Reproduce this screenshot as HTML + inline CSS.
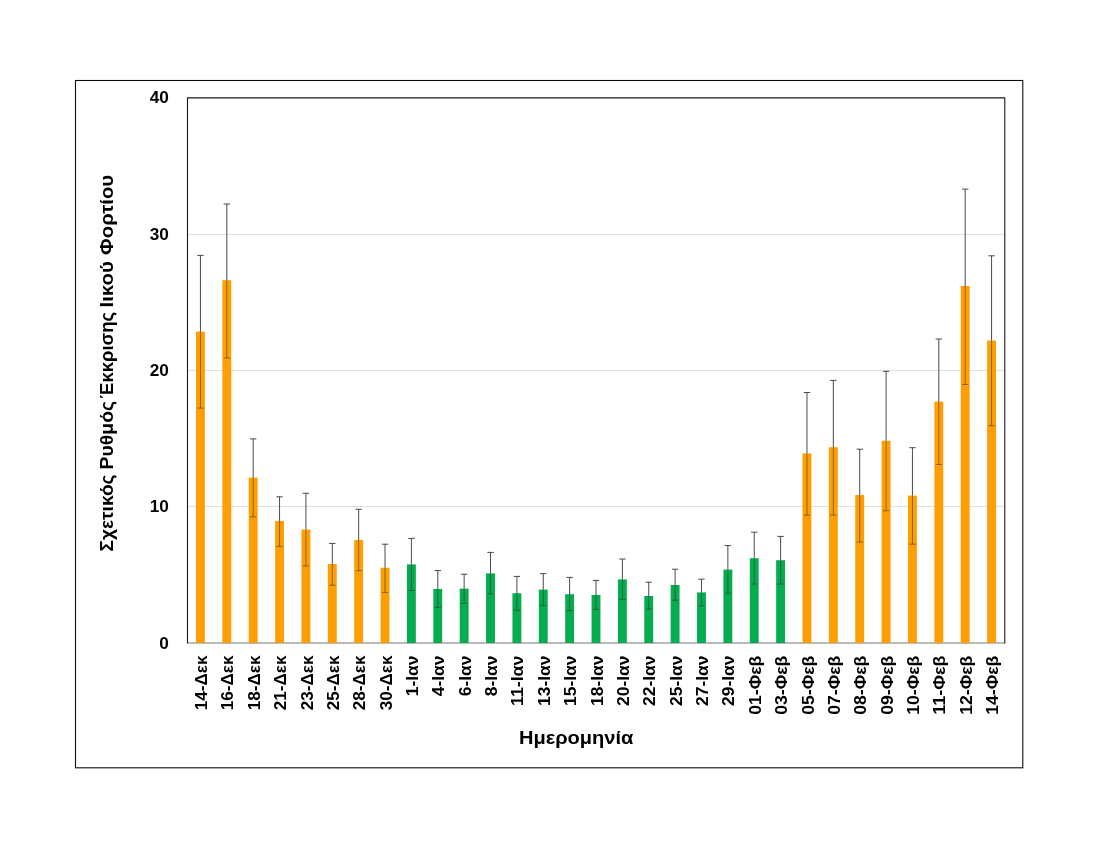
<!DOCTYPE html>
<html lang="el"><head><meta charset="utf-8"><title>Chart</title>
<style>
html,body{margin:0;padding:0;background:#fff;}
body{width:1100px;height:850px;overflow:hidden;}
svg{display:block;}
text{font-family:"Liberation Sans","DejaVu Sans",sans-serif;font-weight:bold;fill:#000;}
</style></head><body>
<svg width="1100" height="850" viewBox="0 0 1100 850">
<rect x="0" y="0" width="1100" height="850" fill="#fff"/>
<rect x="75.5" y="80.5" width="947.3" height="687.3" fill="#fff" stroke="#0d0d0d" stroke-width="1.1"/>
<line x1="187.5" x2="1004.8" y1="506.50" y2="506.50" stroke="#dfdfdf" stroke-width="1"/>
<line x1="187.5" x2="1004.8" y1="370.50" y2="370.50" stroke="#dfdfdf" stroke-width="1"/>
<line x1="187.5" x2="1004.8" y1="234.50" y2="234.50" stroke="#dfdfdf" stroke-width="1"/>
<line x1="187.5" x2="1004.8" y1="643" y2="643" stroke="#a3a3a8" stroke-width="1.6"/>
<rect x="195.99" y="331.60" width="8.9" height="311.40" fill="#FD9F03"/>
<rect x="222.36" y="280.20" width="8.9" height="362.80" fill="#FD9F03"/>
<rect x="248.73" y="477.60" width="8.9" height="165.40" fill="#FD9F03"/>
<rect x="275.10" y="520.90" width="8.9" height="122.10" fill="#FD9F03"/>
<rect x="301.47" y="529.60" width="8.9" height="113.40" fill="#FD9F03"/>
<rect x="327.84" y="564.00" width="8.9" height="79.00" fill="#FD9F03"/>
<rect x="354.21" y="539.90" width="8.9" height="103.10" fill="#FD9F03"/>
<rect x="380.58" y="567.70" width="8.9" height="75.30" fill="#FD9F03"/>
<rect x="406.95" y="564.40" width="8.9" height="78.60" fill="#06AD50"/>
<rect x="433.32" y="589.00" width="8.9" height="54.00" fill="#06AD50"/>
<rect x="459.70" y="588.60" width="8.9" height="54.40" fill="#06AD50"/>
<rect x="486.07" y="573.40" width="8.9" height="69.60" fill="#06AD50"/>
<rect x="512.44" y="593.20" width="8.9" height="49.80" fill="#06AD50"/>
<rect x="538.81" y="589.60" width="8.9" height="53.40" fill="#06AD50"/>
<rect x="565.18" y="594.20" width="8.9" height="48.80" fill="#06AD50"/>
<rect x="591.55" y="595.00" width="8.9" height="48.00" fill="#06AD50"/>
<rect x="617.92" y="579.40" width="8.9" height="63.60" fill="#06AD50"/>
<rect x="644.29" y="596.00" width="8.9" height="47.00" fill="#06AD50"/>
<rect x="670.66" y="585.00" width="8.9" height="58.00" fill="#06AD50"/>
<rect x="697.03" y="592.40" width="8.9" height="50.60" fill="#06AD50"/>
<rect x="723.41" y="569.60" width="8.9" height="73.40" fill="#06AD50"/>
<rect x="749.78" y="558.20" width="8.9" height="84.80" fill="#06AD50"/>
<rect x="776.15" y="560.20" width="8.9" height="82.80" fill="#06AD50"/>
<rect x="802.52" y="453.40" width="8.9" height="189.60" fill="#FD9F03"/>
<rect x="828.89" y="447.20" width="8.9" height="195.80" fill="#FD9F03"/>
<rect x="855.26" y="495.00" width="8.9" height="148.00" fill="#FD9F03"/>
<rect x="881.63" y="440.70" width="8.9" height="202.30" fill="#FD9F03"/>
<rect x="908.00" y="495.60" width="8.9" height="147.40" fill="#FD9F03"/>
<rect x="934.37" y="401.60" width="8.9" height="241.40" fill="#FD9F03"/>
<rect x="960.74" y="286.00" width="8.9" height="357.00" fill="#FD9F03"/>
<rect x="987.12" y="340.50" width="8.9" height="302.50" fill="#FD9F03"/>
<path d="M187.5 643.5 V97.85 H1004.8 V643.5" fill="none" stroke="#1a1a1a" stroke-width="1.1"/>
<path d="M200.44 255.40 V331.60 M197.24 255.40 h6.4" fill="none" stroke="#404040" stroke-width="0.95"/>
<path d="M200.44 331.60 V408.10 M197.24 408.10 h6.4" fill="none" stroke="#262626" stroke-opacity="0.52" stroke-width="0.95"/>
<path d="M226.81 204.00 V280.20 M223.61 204.00 h6.4" fill="none" stroke="#404040" stroke-width="0.95"/>
<path d="M226.81 280.20 V357.90 M223.61 357.90 h6.4" fill="none" stroke="#262626" stroke-opacity="0.52" stroke-width="0.95"/>
<path d="M253.18 438.90 V477.60 M249.98 438.90 h6.4" fill="none" stroke="#404040" stroke-width="0.95"/>
<path d="M253.18 477.60 V516.90 M249.98 516.90 h6.4" fill="none" stroke="#262626" stroke-opacity="0.52" stroke-width="0.95"/>
<path d="M279.55 496.80 V520.90 M276.35 496.80 h6.4" fill="none" stroke="#404040" stroke-width="0.95"/>
<path d="M279.55 520.90 V546.40 M276.35 546.40 h6.4" fill="none" stroke="#262626" stroke-opacity="0.52" stroke-width="0.95"/>
<path d="M305.92 493.30 V529.60 M302.72 493.30 h6.4" fill="none" stroke="#404040" stroke-width="0.95"/>
<path d="M305.92 529.60 V566.10 M302.72 566.10 h6.4" fill="none" stroke="#262626" stroke-opacity="0.52" stroke-width="0.95"/>
<path d="M332.29 543.40 V564.00 M329.09 543.40 h6.4" fill="none" stroke="#404040" stroke-width="0.95"/>
<path d="M332.29 564.00 V585.30 M329.09 585.30 h6.4" fill="none" stroke="#262626" stroke-opacity="0.52" stroke-width="0.95"/>
<path d="M358.66 509.30 V539.90 M355.46 509.30 h6.4" fill="none" stroke="#404040" stroke-width="0.95"/>
<path d="M358.66 539.90 V570.70 M355.46 570.70 h6.4" fill="none" stroke="#262626" stroke-opacity="0.52" stroke-width="0.95"/>
<path d="M385.03 544.20 V567.70 M381.83 544.20 h6.4" fill="none" stroke="#404040" stroke-width="0.95"/>
<path d="M385.03 567.70 V592.40 M381.83 592.40 h6.4" fill="none" stroke="#262626" stroke-opacity="0.52" stroke-width="0.95"/>
<path d="M411.40 538.40 V564.40 M408.20 538.40 h6.4" fill="none" stroke="#404040" stroke-width="0.95"/>
<path d="M411.40 564.40 V590.40 M408.20 590.40 h6.4" fill="none" stroke="#262626" stroke-opacity="0.52" stroke-width="0.95"/>
<path d="M437.77 570.60 V589.00 M434.57 570.60 h6.4" fill="none" stroke="#404040" stroke-width="0.95"/>
<path d="M437.77 589.00 V607.40 M434.57 607.40 h6.4" fill="none" stroke="#262626" stroke-opacity="0.52" stroke-width="0.95"/>
<path d="M464.15 574.20 V588.60 M460.95 574.20 h6.4" fill="none" stroke="#404040" stroke-width="0.95"/>
<path d="M464.15 588.60 V603.40 M460.95 603.40 h6.4" fill="none" stroke="#262626" stroke-opacity="0.52" stroke-width="0.95"/>
<path d="M490.52 552.40 V573.40 M487.32 552.40 h6.4" fill="none" stroke="#404040" stroke-width="0.95"/>
<path d="M490.52 573.40 V594.00 M487.32 594.00 h6.4" fill="none" stroke="#262626" stroke-opacity="0.52" stroke-width="0.95"/>
<path d="M516.89 576.40 V593.20 M513.69 576.40 h6.4" fill="none" stroke="#404040" stroke-width="0.95"/>
<path d="M516.89 593.20 V610.20 M513.69 610.20 h6.4" fill="none" stroke="#262626" stroke-opacity="0.52" stroke-width="0.95"/>
<path d="M543.26 573.60 V589.60 M540.06 573.60 h6.4" fill="none" stroke="#404040" stroke-width="0.95"/>
<path d="M543.26 589.60 V605.40 M540.06 605.40 h6.4" fill="none" stroke="#262626" stroke-opacity="0.52" stroke-width="0.95"/>
<path d="M569.63 577.40 V594.20 M566.43 577.40 h6.4" fill="none" stroke="#404040" stroke-width="0.95"/>
<path d="M569.63 594.20 V610.60 M566.43 610.60 h6.4" fill="none" stroke="#262626" stroke-opacity="0.52" stroke-width="0.95"/>
<path d="M596.00 580.40 V595.00 M592.80 580.40 h6.4" fill="none" stroke="#404040" stroke-width="0.95"/>
<path d="M596.00 595.00 V609.40 M592.80 609.40 h6.4" fill="none" stroke="#262626" stroke-opacity="0.52" stroke-width="0.95"/>
<path d="M622.37 559.00 V579.40 M619.17 559.00 h6.4" fill="none" stroke="#404040" stroke-width="0.95"/>
<path d="M622.37 579.40 V599.40 M619.17 599.40 h6.4" fill="none" stroke="#262626" stroke-opacity="0.52" stroke-width="0.95"/>
<path d="M648.74 582.20 V596.00 M645.54 582.20 h6.4" fill="none" stroke="#404040" stroke-width="0.95"/>
<path d="M648.74 596.00 V609.20 M645.54 609.20 h6.4" fill="none" stroke="#262626" stroke-opacity="0.52" stroke-width="0.95"/>
<path d="M675.11 569.20 V585.00 M671.91 569.20 h6.4" fill="none" stroke="#404040" stroke-width="0.95"/>
<path d="M675.11 585.00 V600.20 M671.91 600.20 h6.4" fill="none" stroke="#262626" stroke-opacity="0.52" stroke-width="0.95"/>
<path d="M701.48 579.20 V592.40 M698.28 579.20 h6.4" fill="none" stroke="#404040" stroke-width="0.95"/>
<path d="M701.48 592.40 V606.00 M698.28 606.00 h6.4" fill="none" stroke="#262626" stroke-opacity="0.52" stroke-width="0.95"/>
<path d="M727.86 545.60 V569.60 M724.66 545.60 h6.4" fill="none" stroke="#404040" stroke-width="0.95"/>
<path d="M727.86 569.60 V593.20 M724.66 593.20 h6.4" fill="none" stroke="#262626" stroke-opacity="0.52" stroke-width="0.95"/>
<path d="M754.23 532.20 V558.20 M751.03 532.20 h6.4" fill="none" stroke="#404040" stroke-width="0.95"/>
<path d="M754.23 558.20 V584.00 M751.03 584.00 h6.4" fill="none" stroke="#262626" stroke-opacity="0.52" stroke-width="0.95"/>
<path d="M780.60 536.40 V560.20 M777.40 536.40 h6.4" fill="none" stroke="#404040" stroke-width="0.95"/>
<path d="M780.60 560.20 V584.00 M777.40 584.00 h6.4" fill="none" stroke="#262626" stroke-opacity="0.52" stroke-width="0.95"/>
<path d="M806.97 392.50 V453.40 M803.77 392.50 h6.4" fill="none" stroke="#404040" stroke-width="0.95"/>
<path d="M806.97 453.40 V515.20 M803.77 515.20 h6.4" fill="none" stroke="#262626" stroke-opacity="0.52" stroke-width="0.95"/>
<path d="M833.34 380.40 V447.20 M830.14 380.40 h6.4" fill="none" stroke="#404040" stroke-width="0.95"/>
<path d="M833.34 447.20 V515.00 M830.14 515.00 h6.4" fill="none" stroke="#262626" stroke-opacity="0.52" stroke-width="0.95"/>
<path d="M859.71 449.20 V495.00 M856.51 449.20 h6.4" fill="none" stroke="#404040" stroke-width="0.95"/>
<path d="M859.71 495.00 V542.10 M856.51 542.10 h6.4" fill="none" stroke="#262626" stroke-opacity="0.52" stroke-width="0.95"/>
<path d="M886.08 371.30 V440.70 M882.88 371.30 h6.4" fill="none" stroke="#404040" stroke-width="0.95"/>
<path d="M886.08 440.70 V510.80 M882.88 510.80 h6.4" fill="none" stroke="#262626" stroke-opacity="0.52" stroke-width="0.95"/>
<path d="M912.45 447.70 V495.60 M909.25 447.70 h6.4" fill="none" stroke="#404040" stroke-width="0.95"/>
<path d="M912.45 495.60 V544.20 M909.25 544.20 h6.4" fill="none" stroke="#262626" stroke-opacity="0.52" stroke-width="0.95"/>
<path d="M938.82 339.00 V401.60 M935.62 339.00 h6.4" fill="none" stroke="#404040" stroke-width="0.95"/>
<path d="M938.82 401.60 V464.50 M935.62 464.50 h6.4" fill="none" stroke="#262626" stroke-opacity="0.52" stroke-width="0.95"/>
<path d="M965.19 189.10 V286.00 M961.99 189.10 h6.4" fill="none" stroke="#404040" stroke-width="0.95"/>
<path d="M965.19 286.00 V384.50 M961.99 384.50 h6.4" fill="none" stroke="#262626" stroke-opacity="0.52" stroke-width="0.95"/>
<path d="M991.57 255.80 V340.50 M988.37 255.80 h6.4" fill="none" stroke="#404040" stroke-width="0.95"/>
<path d="M991.57 340.50 V425.70 M988.37 425.70 h6.4" fill="none" stroke="#262626" stroke-opacity="0.52" stroke-width="0.95"/>
<text x="168.8" y="648.85" font-size="17.2" text-anchor="end">0</text>
<text x="168.8" y="512.35" font-size="17.2" text-anchor="end">10</text>
<text x="168.8" y="375.95" font-size="17.2" text-anchor="end">20</text>
<text x="168.8" y="239.55" font-size="17.2" text-anchor="end">30</text>
<text x="168.8" y="102.95" font-size="17.2" text-anchor="end">40</text>
<text transform="translate(207.04 655.6) rotate(-90)" font-size="17.2" text-anchor="end" textLength="54.6" lengthAdjust="spacingAndGlyphs">14-Δεκ</text>
<text transform="translate(233.41 655.6) rotate(-90)" font-size="17.2" text-anchor="end" textLength="54.6" lengthAdjust="spacingAndGlyphs">16-Δεκ</text>
<text transform="translate(259.78 655.6) rotate(-90)" font-size="17.2" text-anchor="end" textLength="54.6" lengthAdjust="spacingAndGlyphs">18-Δεκ</text>
<text transform="translate(286.15 655.6) rotate(-90)" font-size="17.2" text-anchor="end" textLength="54.6" lengthAdjust="spacingAndGlyphs">21-Δεκ</text>
<text transform="translate(312.52 655.6) rotate(-90)" font-size="17.2" text-anchor="end" textLength="54.6" lengthAdjust="spacingAndGlyphs">23-Δεκ</text>
<text transform="translate(338.89 655.6) rotate(-90)" font-size="17.2" text-anchor="end" textLength="54.6" lengthAdjust="spacingAndGlyphs">25-Δεκ</text>
<text transform="translate(365.26 655.6) rotate(-90)" font-size="17.2" text-anchor="end" textLength="54.6" lengthAdjust="spacingAndGlyphs">28-Δεκ</text>
<text transform="translate(391.63 655.6) rotate(-90)" font-size="17.2" text-anchor="end" textLength="54.6" lengthAdjust="spacingAndGlyphs">30-Δεκ</text>
<text transform="translate(418.00 655.6) rotate(-90)" font-size="17.2" text-anchor="end" textLength="40.6" lengthAdjust="spacingAndGlyphs">1-Ιαν</text>
<text transform="translate(444.37 655.6) rotate(-90)" font-size="17.2" text-anchor="end" textLength="40.6" lengthAdjust="spacingAndGlyphs">4-Ιαν</text>
<text transform="translate(470.75 655.6) rotate(-90)" font-size="17.2" text-anchor="end" textLength="40.6" lengthAdjust="spacingAndGlyphs">6-Ιαν</text>
<text transform="translate(497.12 655.6) rotate(-90)" font-size="17.2" text-anchor="end" textLength="40.6" lengthAdjust="spacingAndGlyphs">8-Ιαν</text>
<text transform="translate(523.49 655.6) rotate(-90)" font-size="17.2" text-anchor="end" textLength="50.4" lengthAdjust="spacingAndGlyphs">11-Ιαν</text>
<text transform="translate(549.86 655.6) rotate(-90)" font-size="17.2" text-anchor="end" textLength="50.4" lengthAdjust="spacingAndGlyphs">13-Ιαν</text>
<text transform="translate(576.23 655.6) rotate(-90)" font-size="17.2" text-anchor="end" textLength="50.4" lengthAdjust="spacingAndGlyphs">15-Ιαν</text>
<text transform="translate(602.60 655.6) rotate(-90)" font-size="17.2" text-anchor="end" textLength="50.4" lengthAdjust="spacingAndGlyphs">18-Ιαν</text>
<text transform="translate(628.97 655.6) rotate(-90)" font-size="17.2" text-anchor="end" textLength="50.4" lengthAdjust="spacingAndGlyphs">20-Ιαν</text>
<text transform="translate(655.34 655.6) rotate(-90)" font-size="17.2" text-anchor="end" textLength="50.4" lengthAdjust="spacingAndGlyphs">22-Ιαν</text>
<text transform="translate(681.71 655.6) rotate(-90)" font-size="17.2" text-anchor="end" textLength="50.4" lengthAdjust="spacingAndGlyphs">25-Ιαν</text>
<text transform="translate(708.08 655.6) rotate(-90)" font-size="17.2" text-anchor="end" textLength="50.4" lengthAdjust="spacingAndGlyphs">27-Ιαν</text>
<text transform="translate(734.46 655.6) rotate(-90)" font-size="17.2" text-anchor="end" textLength="50.4" lengthAdjust="spacingAndGlyphs">29-Ιαν</text>
<text transform="translate(760.83 655.6) rotate(-90)" font-size="17.2" text-anchor="end" textLength="59.2" lengthAdjust="spacingAndGlyphs">01-Φεβ</text>
<text transform="translate(787.20 655.6) rotate(-90)" font-size="17.2" text-anchor="end" textLength="59.2" lengthAdjust="spacingAndGlyphs">03-Φεβ</text>
<text transform="translate(813.57 655.6) rotate(-90)" font-size="17.2" text-anchor="end" textLength="59.2" lengthAdjust="spacingAndGlyphs">05-Φεβ</text>
<text transform="translate(839.94 655.6) rotate(-90)" font-size="17.2" text-anchor="end" textLength="59.2" lengthAdjust="spacingAndGlyphs">07-Φεβ</text>
<text transform="translate(866.31 655.6) rotate(-90)" font-size="17.2" text-anchor="end" textLength="59.2" lengthAdjust="spacingAndGlyphs">08-Φεβ</text>
<text transform="translate(892.68 655.6) rotate(-90)" font-size="17.2" text-anchor="end" textLength="59.2" lengthAdjust="spacingAndGlyphs">09-Φεβ</text>
<text transform="translate(919.05 655.6) rotate(-90)" font-size="17.2" text-anchor="end" textLength="59.2" lengthAdjust="spacingAndGlyphs">10-Φεβ</text>
<text transform="translate(945.42 655.6) rotate(-90)" font-size="17.2" text-anchor="end" textLength="59.2" lengthAdjust="spacingAndGlyphs">11-Φεβ</text>
<text transform="translate(971.79 655.6) rotate(-90)" font-size="17.2" text-anchor="end" textLength="59.2" lengthAdjust="spacingAndGlyphs">12-Φεβ</text>
<text transform="translate(998.17 655.6) rotate(-90)" font-size="17.2" text-anchor="end" textLength="59.2" lengthAdjust="spacingAndGlyphs">14-Φεβ</text>
<text x="576.2" y="743.7" font-size="18.4" text-anchor="middle" textLength="114.5" lengthAdjust="spacingAndGlyphs">Ημερομηνία</text>
<g transform="translate(113.4 551) rotate(-90)" font-size="18.4">
<text x="-0.4" y="0" textLength="76.9" lengthAdjust="spacingAndGlyphs">Σχετικός</text>
<text x="81.6" y="0" textLength="68.52" lengthAdjust="spacingAndGlyphs">Ρυθμός</text>
<text x="152.6" y="0" textLength="86.6" lengthAdjust="spacingAndGlyphs">Έκκρισης</text>
<text x="243.6" y="0" textLength="46.15" lengthAdjust="spacingAndGlyphs">Ιικού</text>
<text x="296.1" y="0" textLength="80.1" lengthAdjust="spacingAndGlyphs">Φορτίου</text>
</g>
</svg>
</body></html>
